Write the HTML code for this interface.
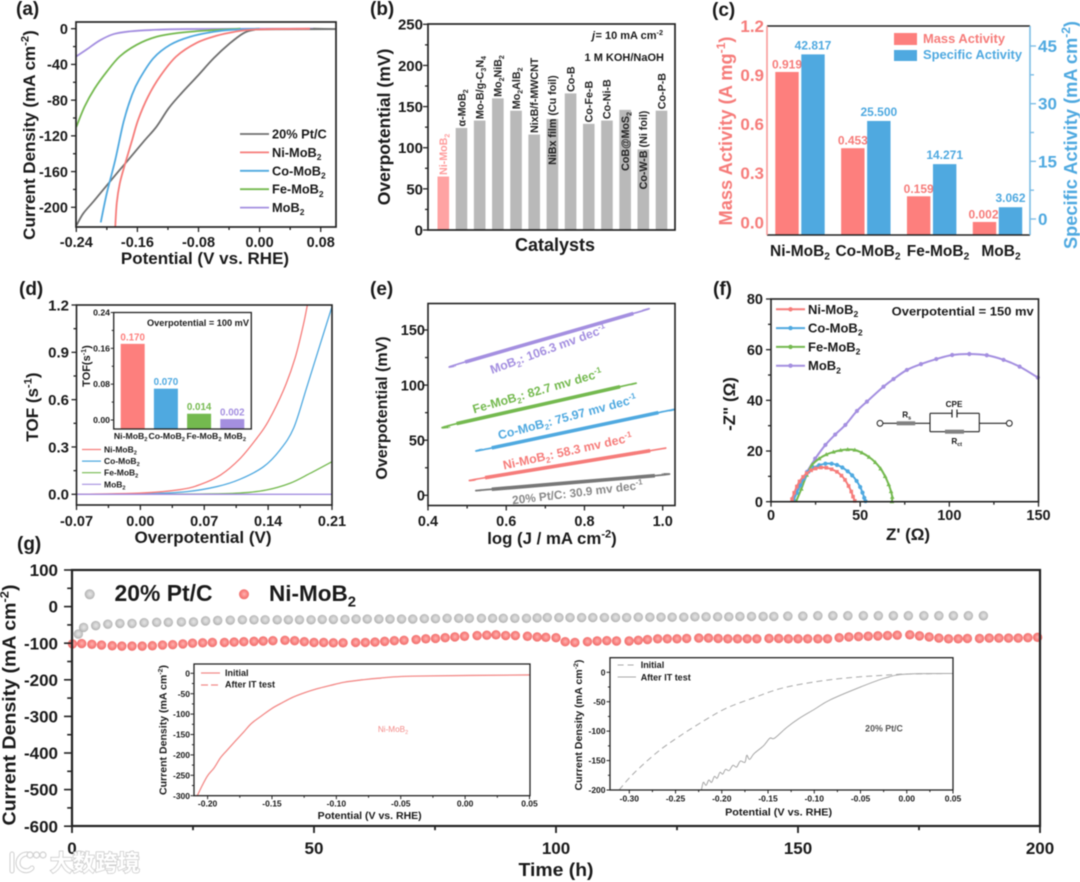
<!DOCTYPE html>
<html lang="en">
<head>
<meta charset="utf-8">
<title>Ni-MoB2 electrocatalyst performance figure</title>
<style>
html,body{margin:0;padding:0;background:#fff;}
svg{display:block;filter:blur(0.4px);}
text{font-family:"Liberation Sans","Noto Sans CJK SC",sans-serif;font-weight:bold;fill:#1a1a1a;}
</style>
</head>
<body>
<svg id="figure" xmlns="http://www.w3.org/2000/svg" width="1080" height="882" viewBox="0 0 1080 882">
<defs>
<radialGradient id="grayBall" cx="52%" cy="48%" r="55%"><stop offset="0" stop-color="#e6e6e6"/><stop offset="0.5" stop-color="#cfcfcf"/><stop offset="1" stop-color="#a9a9a9"/></radialGradient>
<radialGradient id="redBall" cx="52%" cy="48%" r="55%"><stop offset="0" stop-color="#ffb4b2"/><stop offset="0.5" stop-color="#fa8886"/><stop offset="1" stop-color="#ee6866"/></radialGradient>
</defs>
</svg>
<script>
/* ---------- panel (a) LSV ---------- */
const aTicksX=['-0.24','-0.16','-0.08','0.00','0.08'];
const aTicksY=['0','-40','-80','-120','-160','-200'];
const aPtV=[-0.2396,-0.231,-0.218,-0.205,-0.185,-0.172,-0.152,-0.135,-0.119,-0.102,-0.082,-0.06,-0.039,-0.021,-0.008,0.009,0.099];
const aPtJ=[-220,-207,-194,-180.6,-160,-147,-126.5,-109.7,-89,-72,-53.7,-33,-16.4,-5,-1.5,-0.7,-0.5];
const aNiV=[-0.189,-0.187,-0.183,-0.176,-0.1675,-0.159,-0.146,-0.13,-0.109,-0.082,-0.056,-0.034,-0.008,0.066];
const aNiJ=[-222,-195,-173,-151,-126.5,-102,-76,-53,-31,-15.7,-7.8,-3.7,-1,0];
const aCoV=[-0.208,-0.2,-0.189,-0.178,-0.167,-0.157,-0.139,-0.117,-0.091,-0.06,-0.034,0];
const aCoJ=[-217,-184,-147,-104,-74,-56,-33,-18,-9,-3.4,-1.1,0];
const aFeV=[-0.24,-0.229,-0.216,-0.2,-0.183,-0.161,-0.135,-0.104,-0.069,-0.025];
const aFeJ=[-110,-87,-67,-48,-31,-18,-9,-4.5,-2,0];
const aMoV=[-0.24,-0.226,-0.209,-0.191,-0.17,-0.143,-0.095,0.07];
const aMoJ=[-31,-23,-13,-6,-3,-1.5,-0.4,0];
const aLegend=['20% Pt/C','Ni-MoB_{2}','Co-MoB_{2}','Fe-MoB_{2}','MoB_{2}'];

/* ---------- panel (b) catalyst comparison ---------- */
const bTicksY=['0','50','100','150','200','250'];
const bCatalysts=['Ni-MoB_{2}','α-MoB_{2}','Mo-B/g-C_{3}N_{4}','Mo_{2}NiB_{2}','Mo_{2}AlB_{2}','NixB/f-MWCNT','NiBx film (Cu foil)','Co-B','Co-Fe-B','Co-Ni-B','CoB@MoS_{2}','Co-W-B (Ni foil)','Co-P-B'];
const bOverpotential=[65,124,133,160,145,116,135,166,129,133,146,98,145];

/* ---------- panel (c) activity ---------- */
const cCategories=['Ni-MoB_{2}','Co-MoB_{2}','Fe-MoB_{2}','MoB_{2}'];
const cMass=[0.919,0.453,0.159,0.002];
const cSpecific=[42.817,25.5,14.271,3.062];
const cMassLabels=['0.919','0.453','0.159','0.002'];
const cSpecificLabels=['42.817','25.500','14.271','3.062'];
const cTicksLeft=['0.0','0.3','0.6','0.9','1.2'];
const cTicksRight=['0','15','30','45'];

/* ---------- panel (d) TOF ---------- */
const dTicksX=['-0.07','0.00','0.07','0.14','0.21'];
const dTicksY=['0.0','0.3','0.6','0.9','1.2'];
const dNiEta=[-0.07,0,0.044,0.066,0.088,0.109,0.1275,0.14,0.157,0.1695,0.1786,0.183];
const dNiTof=[0,0.008,0.03,0.063,0.123,0.225,0.355,0.461,0.662,0.863,1.074,1.2];
const dCoEta=[-0.07,0.007,0.051,0.084,0.109,0.135,0.153,0.168,0.182,0.197,0.21];
const dCoTof=[0,0.004,0.017,0.049,0.095,0.175,0.281,0.42,0.672,0.95,1.19];
const dFeEta=[-0.07,0.065,0.109,0.138,0.164,0.186,0.21];
const dFeTof=[0,0.002,0.008,0.027,0.07,0.133,0.207];
const dMoEta=[-0.07,0.21];
const dMoTof=[0,0];
const dInsetCategories=['Ni-MoB_{2}','Co-MoB_{2}','Fe-MoB_{2}','MoB_{2}'];
const dInsetTof=[0.17,0.07,0.014,0.002];
const dInsetLabels=['0.170','0.070','0.014','0.002'];
const dInsetTicks=['0.00','0.08','0.16','0.24'];

/* ---------- panel (e) Tafel ---------- */
const eTicksX=['0.4','0.6','0.8','1.0'];
const eTicksY=['0','50','100','150'];
const eMoLog=[0.469,0.495,0.925,0.95];
const eMoEta=[117.3,121,165,168];
const eFeLog=[0.4545,0.473,0.891,0.92];
const eFeEta=[61.7,65,98.5,100.7];
const eCoLog=[0.537,0.563,0.989,1.019];
const eCoEta=[41.7,43,75,76.8];
const eNiLog=[0.52,0.546,0.968,0.993];
const eNiEta=[13.9,16,40.5,42];
const ePtLog=[0.535,0.563,0.98,1.0];
const ePtEta=[4.5,5.5,17.8,19.4];

/* ---------- panel (f) Nyquist ---------- */
const fTicksX=['0','50','100','150'];
const fTicksY=['0','20','40','60','80'];
const fNiRe=[11.8,13,14.5,16,18,20,22.5,25,28,31,34,37,39.5,41.5,43.5,45,46,47];
const fNiIm=[1,3.5,6,8,9.8,11.2,12.4,13.1,13.5,13.4,12.8,11.8,10.3,8.6,6.2,4,2,0.3];
const fCoRe=[12.7,14.5,16.5,18.5,21,24,27,30.5,34,37,40,43,45.5,48,50,51.3,52.3,53];
const fCoIm=[0.7,3.5,6.5,9.2,11.8,13.4,14.4,15,15,14.5,13.5,12,10.4,8.2,5.8,3.6,1.5,0.2];
const fFeRe=[14.2,17,20,23,27,31,35,39,43,47,51,55,58.5,61.5,64,66,67.3,68,67.8];
const fFeIm=[0.3,5,10.5,14.5,17,18.6,19.6,20.3,20.6,20.4,19.3,17.6,15.5,13,10,6.8,4,1.8,0];
const fMoRe=[12.3,15.5,20.2,24.8,30.5,36,41.7,48.2,53.8,63.1,68.7,76.2,84.1,92.7,101.6,111.2,121,130.4,139.4,149.6];
const fMoIm=[1.3,5.9,11.8,17,22.4,26.5,30.3,35.8,39.5,45.4,48.4,52,54.3,56.3,57.9,58.3,57.8,56,53.3,49];

/* ---------- panel (g) stability ---------- */
const gTicksX=['0','50','100','150','200'];
const gTicksY=['100','0','-100','-200','-300','-400','-500','-600'];
const gPtTime=[1.3,2.4,4.9,7.4,9.9,12.4,14.9,17.5,19.9,22.6,25.1,27.6,30.1,32.7,35.2,37.6,39.9,42.4,44.7,47,49.4,51.7,54,56.4,58.7,61,63.4,65.7,68.1,70.4,72.8,75.1,77.5,79.9,82.1,84.6,86.9,89.1,91.5,93.9,96.1,98.2,100.6,102.9,105.3,107.6,110,112.3,114.6,117,119.4,121.7,124,126.4,128.7,131,133.4,135.7,138,140.4,142.8,145,147.9,151,154.1,157.2,160.3,163.5,166.6,169.7,172.8,176,179.1,182.1,185.2,188.3];
const gPtCurrent=[-75,-57,-52,-48,-46,-46,-44,-43,-43,-42,-42,-39,-38,-37,-36,-36,-36,-36,-36,-36,-36,-35,-35,-35,-34,-34,-34,-34,-34,-34,-33,-33,-32,-32,-32,-32,-32,-32,-32,-32,-31,-30,-30,-30,-30,-30,-30,-30,-30,-29,-29,-29,-29,-29,-28,-28,-28,-28,-27,-27,-27,-27,-26,-26,-25,-25,-25,-25,-25,-25,-25,-25,-25,-25,-25,-25];
const gNiTime=[0.1,2,4.1,6.1,8.3,10.3,12.4,14.5,16.6,18.7,20.8,22.9,24.9,27,29,31.5,33.5,35.5,37.6,39.5,41.5,44,46,48,50,52,54,56,58.6,60.6,62.6,64.6,66.6,68.6,71.1,73.1,75.1,77.1,79.1,81.1,83.7,85.7,87.6,89.6,91.6,94.1,96.1,97.9,100,101.9,103.9,106.5,108.5,110.5,112.5,115.1,117,118.9,121,123,125,127,129.5,131.5,133.5,135.5,137.5,139.5,141.5,144,146,148,150,152,154.1,156.1,158.5,160.5,162.5,164.5,166.5,168.5,170.5,173.1,175.1,177.1,179.1,181.1,183.1,185,187.5,189.5,191.5,193.5,195.5,197.5,199.5];
const gNiCurrent=[-102,-101,-103,-105,-107,-108,-108,-108,-107,-105,-104,-102,-100,-99,-98,-98,-97,-96,-95,-94,-93,-92,-93,-96,-98,-98,-99,-99,-98,-98,-97,-95,-93,-92,-90,-88,-87,-85,-83,-81,-79,-78,-77,-79,-79,-81,-83,-84,-85,-96,-98,-96,-94,-93,-94,-94,-92,-90,-88,-88,-88,-87,-86,-86,-87,-88,-88,-88,-88,-87,-87,-88,-88,-88,-88,-88,-85,-83,-82,-81,-80,-79,-78,-77,-80,-83,-86,-88,-88,-87,-87,-86,-86,-86,-86,-85,-84];
const g1TicksX=['-0.20','-0.15','-0.10','-0.05','0.00','0.05'];
const g1TicksY=['0','-50','-100','-150','-200','-250','-300'];
const g1Potential=[-0.208,-0.204,-0.2,-0.195,-0.19,-0.185,-0.179,-0.172,-0.166,-0.158,-0.15,-0.142,-0.134,-0.125,-0.115,-0.105,-0.094,-0.08,-0.067,-0.04,0.05];
const g1Current=[-300,-274,-251,-232,-207,-189,-168,-144,-123,-104,-86,-72,-59,-48,-38,-30,-22,-16,-12,-7,-4];
const g2TicksX=['-0.30','-0.25','-0.20','-0.15','-0.10','-0.05','0.00','0.05'];
const g2TicksY=['0','-50','-100','-150','-200'];
const g2InitialV=[-0.311,-0.296,-0.27,-0.247,-0.221,-0.195,-0.165,-0.135,-0.098,-0.061,-0.024,-0.001,0.05];
const g2InitialJ=[-200,-173,-136,-110,-84,-61,-43,-27,-16,-9,-5,-3,-2];
const g2AfterV=[-0.222,-0.22,-0.217,-0.214,-0.211,-0.208,-0.205,-0.202,-0.199,-0.196,-0.192,-0.188,-0.184,-0.18,-0.175,-0.173,-0.17,-0.165,-0.155,-0.148,-0.143,-0.13,-0.117,-0.1,-0.083,-0.05,-0.024,-0.001,0.05];
const g2AfterJ=[-200,-187,-192,-183,-187,-177,-180,-170,-173,-165,-167,-158,-161,-151,-153,-141,-148,-138,-125,-112,-112,-94,-79,-63,-47,-25,-10,-3,-2];

/* ---------- helpers ---------- */
const NS='http://www.w3.org/2000/svg';
const root=document.getElementById('figure');
const RED='#f67c7a',BLUE='#4fa9e0',GREEN='#74b94f',PURPLE='#a48fe0',GRAY='#6f6f6f';

function add(tag,attrs,parent){
  const e=document.createElementNS(NS,tag);
  for(const k in attrs)e.setAttribute(k,attrs[k]);
  parent.appendChild(e);
  return e;
}
function linear(d0,d1,r0,r1){return v=>r0+(v-d0)*(r1-r0)/(d1-d0);}
function group(name){
  const g=add('g',{},root);
  
  
  return g;
}
function rich(t,str,fs){
  const parts=str.split(/(_\{[^}]*\}|\^\{[^}]*\})/).filter(s=>s.length);
  let back=0;
  parts.forEach(p=>{
    const ts=add('tspan',{},t);
    const m=p.match(/^([_^])\{(.*)\}$/);
    if(m){
      const off=m[1]==='_'?fs*0.24:-fs*0.38;
      ts.setAttribute('dy',back+off);
      ts.setAttribute('font-size',fs*0.66);
      ts.textContent=m[2];
      back=-off;
    }else{
      if(back)ts.setAttribute('dy',back);
      ts.textContent=p;
      back=0;
    }
  });
}
function label(parent,x,y,str,fs,o){
  o=o||{};
  const t=add('text',{x:x,y:y,'font-size':fs,'text-anchor':o.anchor||'start'},parent);
  if(o.fill)t.style.fill=o.fill;
  if(o.weight)t.style.fontWeight=o.weight;
  if(o.italic)t.style.fontStyle='italic';
  if(o.rot!==undefined)t.setAttribute('transform','rotate('+o.rot+' '+x+' '+y+')');
  if(o.len){t.setAttribute('textLength',o.len);t.setAttribute('lengthAdjust','spacingAndGlyphs');}
  
  
  rich(t,str,fs);
  return t;
}
function seg(parent,x1,y1,x2,y2,color,w,name,dash){
  const l=add('line',{x1:x1,y1:y1,x2:x2,y2:y2,stroke:color,'stroke-width':w},parent);
  if(dash)l.setAttribute('stroke-dasharray',dash);
  
  
  return l;
}
function frame(parent,b,w,name){
  const r=add('rect',{x:b.l,y:b.t,width:b.r-b.l,height:b.b-b.t,fill:'none',stroke:'#222','stroke-width':w},parent);
  
  
  return r;
}
function ticksX(parent,b,sx,labels,o){
  const vals=labels.map(parseFloat);
  vals.forEach((v,i)=>{
    seg(parent,sx(v),b.b,sx(v),b.b+o.major,'#222',o.w,'x-tick');
    label(parent,sx(v)+(o.dx||0),o.base,labels[i],o.fs,{anchor:'middle',name:'x-tick-label'});
    if(i<vals.length-1)seg(parent,sx((v+vals[i+1])/2),b.b,sx((v+vals[i+1])/2),b.b+o.major*0.6,'#222',o.w,'x-minor-tick');
  });
}
function ticksY(parent,b,sy,labels,o){
  const vals=labels.map(parseFloat);
  vals.forEach((v,i)=>{
    seg(parent,b.l-o.major,sy(v),b.l,sy(v),'#222',o.w,'y-tick');
    label(parent,o.right,sy(v)+o.fs*0.36,labels[i],o.fs,{anchor:'end',name:'y-tick-label'});
    if(i<vals.length-1)seg(parent,b.l-o.major*0.6,sy((v+vals[i+1])/2),b.l,sy((v+vals[i+1])/2),'#222',o.w,'y-minor-tick');
  });
}
function smooth(pts){
  let d='M'+pts[0][0].toFixed(2)+' '+pts[0][1].toFixed(2);
  for(let i=0;i<pts.length-1;i++){
    const p0=pts[Math.max(i-1,0)],p1=pts[i],p2=pts[i+1],p3=pts[Math.min(i+2,pts.length-1)];
    const c1=[p1[0]+(p2[0]-p0[0])/6,p1[1]+(p2[1]-p0[1])/6];
    const c2=[p2[0]-(p3[0]-p1[0])/6,p2[1]-(p3[1]-p1[1])/6];
    d+='C'+c1[0].toFixed(2)+' '+c1[1].toFixed(2)+' '+c2[0].toFixed(2)+' '+c2[1].toFixed(2)+' '+p2[0].toFixed(2)+' '+p2[1].toFixed(2);
  }
  return d;
}
function curve(parent,xs,ys,sx,sy,color,w,name,dash){
  const pts=xs.map((x,i)=>[sx(x),sy(ys[i])]);
  const p=add('path',{d:smooth(pts),fill:'none',stroke:color,'stroke-width':w,'stroke-linejoin':'round'},parent);
  if(dash)p.setAttribute('stroke-dasharray',dash);
  
  
  return p;
}
function bar(parent,x,w,yTop,yBase,color,name){
  const r=add('rect',{x:x,y:yTop,width:w,height:Math.max(yBase-yTop,0),fill:color},parent);
  
  
  return r;
}

/* ---------- (a) ---------- */
(function(){
  const g=group('panel-a-lsv');
  const b={l:76,t:22,r:336,b:227};
  const sx=linear(-0.24,0.08,76.3,320.7),sy=linear(0,-200,28.7,207.3);
  curve(g,aMoV,aMoJ,sx,sy,PURPLE,1.8,'series-mob2');
  curve(g,[0.07,0.099],[0,-0.5],sx,sy,GRAY,1.8,'series-pt-tail');
  curve(g,aFeV,aFeJ,sx,sy,GREEN,1.8,'series-fe-mob2');
  curve(g,aPtV,aPtJ,sx,sy,GRAY,1.8,'series-pt-c');
  curve(g,aCoV,aCoJ,sx,sy,BLUE,1.8,'series-co-mob2');
  curve(g,aNiV,aNiJ,sx,sy,RED,1.8,'series-ni-mob2');
  frame(g,b,1.7);
  ticksX(g,b,sx,aTicksX,{major:5,w:1.3,base:247,fs:14.5});
  ticksY(g,b,sy,aTicksY,{major:5,w:1.3,right:68,fs:14.5});
  label(g,205,264,'Potential (V vs. RHE)',17,{anchor:'middle',name:'x-axis-title'});
  label(g,35,135,'Current Density (mA cm^{-2})',17,{anchor:'middle',rot:-90,name:'y-axis-title'});
  label(g,16,15,'(a)',19,{name:'panel-label-a'});
  const cols=[GRAY,RED,BLUE,GREEN,PURPLE];
  aLegend.forEach((s,i)=>{
    const y=134+i*18.4;
    seg(g,240,y,269,y,cols[i],1.8,'legend-line');
    label(g,272,y+4.5,s,12.8,{name:'legend-entry'});
  });
})();

/* ---------- (b) ---------- */
(function(){
  const g=group('panel-b-comparison');
  const b={l:428,t:24,r:675,b:230};
  const sy=linear(0,250,230,24.3),sx=linear(0,12,443.3,661.5);
  bOverpotential.forEach((v,i)=>{
    const name='bar-catalyst-'+i;
    bar(g,sx(i)-5.8,11.6,sy(v),b.b,i===0?'#ffa3a3':'#b9b9b9',name);
  });
  frame(g,b,1.7);
  ticksY(g,b,sy,bTicksY,{major:5,w:1.3,right:423,fs:15});
  bCatalysts.forEach((s,i)=>{
    const inside=i===6?46:i===10?61:i===11?40:-1.5;
    const x=sx(i)+3.8,y=sy(bOverpotential[i])+inside;
    label(g,x,y,s,10.7,{rot:-90,fill:i===0?'#ff9c9c':'#222',name:'catalyst-label'});
  });
  label(g,555,251,'Catalysts',18,{anchor:'middle',name:'x-axis-title'});
  label(g,390,127,'Overpotential (mV)',17.5,{anchor:'middle',rot:-90,name:'y-axis-title'});
  label(g,592,39,'j',11,{italic:true,name:'condition-current-symbol'});
  label(g,663,39,'= 10 mA cm^{-2}',11,{anchor:'end',name:'condition-current'});
  label(g,664,61,'1 M KOH/NaOH',11,{anchor:'end',name:'condition-electrolyte'});
  label(g,370,15,'(b)',19,{name:'panel-label-b'});
})();

/* ---------- (c) ---------- */
(function(){
  const g=group('panel-c-activity');
  const b={l:767,t:26,r:1030,b:235};
  const sm=linear(0,1.2,222.3,26),ss=linear(0,45,219,46);
  const gx=linear(0,3,787,984.5);
  cMass.forEach((v,i)=>{
    bar(g,gx(i)-11.7,23.4,sm(v),b.b,'#fd7f7d','bar-mass-activity-'+i);
    label(g,gx(i)+(i===3?-1:0),sm(v)-3.5,cMassLabels[i],12,{anchor:'middle',fill:RED,name:'mass-activity-value'});
  });
  cSpecific.forEach((v,i)=>{
    bar(g,gx(i)+14.3,23.4,ss(v),b.b,BLUE,'bar-specific-activity-'+i);
    label(g,gx(i)+26,ss(v)-5,cSpecificLabels[i],12,{anchor:'middle',fill:BLUE,name:'specific-activity-value'});
  });
  seg(g,767,26,1030,26,'#222',1.6,'top-axis-line');
  seg(g,767,235,1030,235,'#222',1.6,'bottom-axis-line');
  seg(g,767,26,767,235,'#f99a98',1.6,'left-axis-line');
  seg(g,1030,26,1030,235,'#7cbde6',1.6,'right-axis-line');
  cTicksLeft.forEach(s=>{
    label(g,764,sm(parseFloat(s))+6,s,17,{anchor:'end',fill:RED,name:'left-tick-label'});
  });
  cTicksRight.forEach((s,i)=>{
    const v=parseFloat(s);
    seg(g,1030,ss(v),1036,ss(v),'#7cbde6',1.4,'right-tick');
    if(i<3)seg(g,1030,ss(v+7.5),1034,ss(v+7.5),'#7cbde6',1.4,'right-minor-tick');
    label(g,1038,ss(v)+6,s,17,{fill:BLUE,name:'right-tick-label'});
  });
  const shift=[0,2,7,4];
  const centers=[800,866,931,997];
  cCategories.forEach((s,i)=>{
    label(g,centers[i]+shift[i],256,s,15.5,{anchor:'middle',name:'category-label'});
  });
  label(g,732,131,'Mass Activity (A mg^{-1})',18.5,{anchor:'middle',rot:-90,fill:RED,name:'left-axis-title',len:189});
  label(g,1077,135,'Specific Activity (mA cm^{-2})',18.5,{anchor:'middle',rot:-90,fill:BLUE,name:'right-axis-title',len:228});
  bar(g,894,23,33,45,'#fd7f7d','legend-swatch-mass');
  bar(g,894,23,50,61,BLUE,'legend-swatch-specific');
  label(g,923,43,'Mass Activity',12.5,{fill:RED,name:'legend-entry',len:82});
  label(g,923,59,'Specific Activity',12.5,{fill:BLUE,name:'legend-entry',len:99});
  label(g,712,16,'(c)',19,{name:'panel-label-c'});
})();

/* ---------- (d) ---------- */
(function(){
  const g=group('panel-d-tof');
  const b={l:76.5,t:305,r:332,b:505};
  const sx=linear(-0.07,0.21,76.5,332),sy=linear(0,1.2,494.3,305);
  curve(g,dFeEta,dFeTof,sx,sy,GREEN,1.3,'series-fe-mob2');
  curve(g,dCoEta,dCoTof,sx,sy,BLUE,1.3,'series-co-mob2');
  curve(g,dNiEta,dNiTof,sx,sy,RED,1.3,'series-ni-mob2');
  curve(g,dMoEta,dMoTof,sx,sy,PURPLE,1.3,'series-mob2');
  frame(g,b,1.6);
  ticksX(g,b,sx,dTicksX,{major:5,w:1.3,base:526,fs:14.5});
  ticksY(g,b,sy,dTicksY,{major:5,w:1.3,right:69,fs:15});
  label(g,203,543,'Overpotential  (V)',17,{anchor:'middle',name:'x-axis-title'});
  label(g,38,407,'TOF (s^{-1})',17,{anchor:'middle',rot:-90,name:'y-axis-title'});
  label(g,19,295,'(d)',19,{name:'panel-label-d'});
  const names=['Ni-MoB_{2}','Co-MoB_{2}','Fe-MoB_{2}','MoB_{2}'];
  const cols=[RED,BLUE,GREEN,PURPLE];
  names.forEach((s,i)=>{
    const y=449.5+i*11.6;
    seg(g,82,y,101,y,cols[i],1.2,'legend-line');
    label(g,104,y+3,s,8.5,{name:'legend-entry'});
  });
  /* inset */
  const ib={l:113.7,t:312.5,r:251.3,b:429};
  const iy=linear(0,0.24,420,312.5);
  const ix=linear(0,3,132.7,232.3);
  const icols=['#fd7f7d',BLUE,GREEN,'#a48fe0'];
  dInsetTof.forEach((v,i)=>{
    bar(g,ix(i)-12,24,iy(v),ib.b,icols[i],'inset-bar-'+i);
    label(g,ix(i),iy(v)-3.5,dInsetLabels[i],9.8,{anchor:'middle',fill:icols[i],name:'inset-bar-value'});
  });
  frame(g,ib,1.3,'inset-frame');
  dInsetTicks.forEach((s,i)=>{
    const v=parseFloat(s);
    seg(g,ib.l-3,iy(v),ib.l,iy(v),'#222',1,'inset-y-tick');
    label(g,110,iy(v)+3,s,8.7,{anchor:'end',name:'inset-y-tick-label'});
    if(i<3)seg(g,ib.l-2,iy(v+0.04),ib.l,iy(v+0.04),'#222',1,'inset-y-minor-tick');
  });
  const icx=[130.7,166.7,204,235];
  dInsetCategories.forEach((s,i)=>{
    label(g,icx[i],439,s,8.7,{anchor:'middle',name:'inset-category-label'});
  });
  label(g,90,366,'TOF(s^{-1})',11,{anchor:'middle',rot:-90,name:'inset-y-axis-title'});
  label(g,147,326,'Overpotential = 100 mV',8.8,{name:'inset-annotation',len:102});
})();

/* ---------- (e) ---------- */
(function(){
  const g=group('panel-e-tafel');
  const b={l:428,t:303.5,r:675,b:505.5};
  const sx=linear(0.4,1,428,662.7),sy=linear(0,150,495.3,330);
  function tafel(xs,ys,col,name){
    curve(g,xs,ys,sx,sy,col,1.7,name+'-fit');
    curve(g,xs.slice(1,3),ys.slice(1,3),sx,sy,col,3.6,name+'-data');
  }
  tafel(ePtLog,ePtEta,'#777777','series-pt-c');
  tafel(eNiLog,eNiEta,RED,'series-ni-mob2');
  tafel(eCoLog,eCoEta,BLUE,'series-co-mob2');
  tafel(eFeLog,eFeEta,GREEN,'series-fe-mob2');
  tafel(eMoLog,eMoEta,PURPLE,'series-mob2');
  frame(g,b,1.6);
  ticksX(g,b,sx,eTicksX,{major:5,w:1.3,base:526,fs:14.5});
  ticksY(g,b,sy,eTicksY,{major:5,w:1.3,right:425,fs:14.5});
  label(g,552,544,'log (J / mA cm^{-2})',16.8,{anchor:'middle',name:'x-axis-title'});
  label(g,387,408,'Overpotential (mV)',16,{anchor:'middle',rot:-90,name:'y-axis-title'});
  label(g,492,374,'MoB_{2}: 106.3 mv dec^{-1}',12.3,{rot:-20,fill:PURPLE,name:'slope-label-mob2'});
  label(g,474,413.5,'Fe-MoB_{2}: 82.7 mv dec^{-1}',12.3,{rot:-16,fill:GREEN,name:'slope-label-fe-mob2'});
  label(g,499.3,439.5,'Co-MoB_{2}: 75.97 mv dec^{-1}',12.3,{rot:-15,fill:BLUE,name:'slope-label-co-mob2'});
  label(g,504,469.5,'Ni-MoB_{2}: 58.3 mv dec^{-1}',12.3,{rot:-12.4,fill:RED,name:'slope-label-ni-mob2'});
  label(g,512.7,504.3,'20% Pt/C: 30.9 mv dec^{-1}',11.8,{rot:-6.8,fill:'#888888',name:'slope-label-pt-c'});
  label(g,370,295,'(e)',19,{name:'panel-label-e'});
})();

/* ---------- (f) ---------- */
(function(){
  const g=group('panel-f-nyquist');
  const b={l:771,t:299,r:1038.5,b:501.7};
  const sx=linear(0,150,771,1038.5),sy=linear(0,80,501.7,299);
  function nyq(xs,ys,col,name,shape){
    curve(g,xs,ys,sx,sy,col,2,name);
    xs.forEach((x,i)=>{
      const px=sx(x),py=sy(ys[i]);
      let m;
      if(shape==='tri')m=add('path',{d:'M'+px+' '+(py-2.4)+'l2.3 4h-4.6z',fill:col},g);
      else if(shape==='sq')m=add('rect',{x:px-1.8,y:py-1.8,width:3.6,height:3.6,fill:col},g);
      else m=add('circle',{cx:px,cy:py,r:2.1,fill:col},g);
      
      
    });
  }
  nyq(fMoRe,fMoIm,PURPLE,'series-mob2','dot');
  nyq(fFeRe,fFeIm,GREEN,'series-fe-mob2','tri');
  nyq(fCoRe,fCoIm,BLUE,'series-co-mob2','dot');
  nyq(fNiRe,fNiIm,RED,'series-ni-mob2','sq');
  frame(g,b,1.6);
  ticksX(g,b,sx,fTicksX,{major:5,w:1.3,base:520,fs:14.5});
  ticksY(g,b,sy,fTicksY,{major:5,w:1.3,right:763,fs:14.5});
  label(g,908,540,"Z' (Ω)",17,{anchor:'middle',name:'x-axis-title'});
  label(g,735,404,'-Z" (Ω)',17,{anchor:'middle',rot:-90,name:'y-axis-title'});
  label(g,713,295,'(f)',19,{name:'panel-label-f'});
  label(g,891.7,315.7,'Overpotential = 150 mv',11.5,{name:'overpotential-annotation',len:142});
  const names=['Ni-MoB_{2}','Co-MoB_{2}','Fe-MoB_{2}','MoB_{2}'];
  const cols=[RED,BLUE,GREEN,PURPLE];
  names.forEach((s,i)=>{
    const y=309.3+i*18.8;
    seg(g,776,y,805,y,cols[i],2,'legend-line');
    const m=add('circle',{cx:790.5,cy:y,r:2.2,fill:cols[i]},g);
    
    
    label(g,808,y+4.5,s,13,{name:'legend-entry'});
  });
  /* equivalent circuit */
  const c=group('equivalent-circuit');
  seg(c,883,423.3,930,423.3,'#222',1.1,'circuit-wire');
  seg(c,979.3,423.3,1006,423.3,'#222',1.1,'circuit-wire');
  seg(c,930,413.3,930,431.7,'#222',1.1,'circuit-wire');
  seg(c,979.3,413.3,979.3,431.7,'#222',1.1,'circuit-wire');
  seg(c,930,413.3,952,413.3,'#222',1.1,'circuit-wire');
  seg(c,957,413.3,979.3,413.3,'#222',1.1,'circuit-wire');
  seg(c,930,431.7,979.3,431.7,'#222',1.1,'circuit-wire');
  seg(c,952,409.5,952,417.5,'#222',1.2,'capacitor-plate');
  seg(c,957,409.5,957,417.5,'#222',1.2,'capacitor-plate');
  bar(c,896.7,18.5,421.3,425.3,'#808080','resistor-rs');
  bar(c,945,19,429.7,433.7,'#808080','resistor-rct');
  [880,1009.3].forEach(cx=>{
    const o=add('circle',{cx:cx,cy:423.3,r:2.9,fill:'#fff',stroke:'#222','stroke-width':1},c);
    
    
  });
  label(c,954,407,'CPE',8.2,{anchor:'middle',name:'circuit-label-cpe'});
  label(c,906.7,417.7,'R_{s}',8.2,{anchor:'middle',name:'circuit-label-rs'});
  label(c,956.7,444,'R_{ct}',8.2,{anchor:'middle',name:'circuit-label-rct'});
})();

/* ---------- (g) ---------- */
(function(){
  const g=group('panel-g-stability');
  const b={l:72,t:570,r:1040,b:826};
  const sx=linear(0,200,72,1040),sy=linear(0,100,606.6,570);
  gPtTime.forEach((t,i)=>{
    const c=add('circle',{cx:sx(t),cy:sy(gPtCurrent[i]),r:4.7,fill:'url(#grayBall)'},g);
    
    
  });
  gNiTime.forEach((t,i)=>{
    const c=add('circle',{cx:sx(t),cy:sy(gNiCurrent[i]),r:4.7,fill:'url(#redBall)'},g);
    
    
  });
  frame(g,b,2.2);
  ticksX(g,b,sx,gTicksX,{major:7,w:1.8,base:854,fs:17});
  ticksY(g,b,sy,gTicksY.slice().reverse(),{major:8,w:1.6,right:58,fs:17});
  label(g,556,876,'Time (h)',18,{anchor:'middle',name:'x-axis-title',len:75});
  label(g,15.5,705,'Current Density (mA cm^{-2})',18.5,{anchor:'middle',rot:-90,name:'y-axis-title',len:241});
  label(g,17,550,'(g)',19,{name:'panel-label-g'});
  const lg=add('circle',{cx:89.7,cy:594.3,r:5,fill:'url(#grayBall)'},g);
  
  
  const lr=add('circle',{cx:244,cy:594.3,r:5,fill:'url(#redBall)'},g);
  
  
  label(g,114.5,601,'20% Pt/C',23,{name:'legend-entry-pt-c',len:98});
  label(g,269,601,'Ni-MoB_{2}',22.5,{name:'legend-entry-ni-mob2'});

  /* inset Ni-MoB2 */
  const i1=group('inset-ni-mob2');
  const b1={l:194,t:664,r:530,b:795.7};
  const x1=linear(-0.2,0.05,207.6,529.5),y1=linear(0,-300,673.3,795.7);
  curve(i1,g1Potential,g1Current,x1,y1,'#f38b89',1.3,'series-after-it');
  frame(i1,b1,1.3,'inset-frame');
  ticksX(i1,b1,x1,g1TicksX,{major:3.5,w:1,base:806.7,fs:8.5});
  ticksY(i1,b1,y1,g1TicksY,{major:3.5,w:1,right:190,fs:8.5});
  label(i1,369.7,819,'Potential (V vs. RHE)',10,{anchor:'middle',name:'inset-x-axis-title',len:104});
  label(i1,166.5,730,'Current Density (mA cm^{-2})',10,{anchor:'middle',rot:-90,name:'inset-y-axis-title',len:130});
  seg(i1,201,673,220,673,'#f38b89',1.2,'legend-line-initial');
  seg(i1,201,685,220,685,'#f38b89',1.2,'legend-line-after','7 3');
  label(i1,225,676,'Initial',9,{name:'legend-entry'});
  label(i1,225,687.7,'After IT test',9,{name:'legend-entry'});
  label(i1,393,732,'Ni-MoB_{2}',8.2,{anchor:'middle',fill:'#f38b89',weight:'normal',name:'inset-annotation'});

  /* inset Pt/C */
  const i2=group('inset-pt-c');
  const b2={l:610,t:657.7,r:953,b:790};
  const x2=linear(-0.3,0.05,629.3,953),y2=linear(0,-200,672.3,790);
  curve(i2,g2InitialV,g2InitialJ,x2,y2,'#a8a8a8',1,'series-initial','6 4');
  curve(i2,g2AfterV,g2AfterJ,x2,y2,'#a8a8a8',1,'series-after-it');
  frame(i2,b2,1.3,'inset-frame');
  ticksX(i2,b2,x2,g2TicksX,{major:3.5,w:1,base:801.7,fs:8.5});
  ticksY(i2,b2,y2,g2TicksY,{major:3.5,w:1,right:605.5,fs:8.5});
  label(i2,778.6,815.7,'Potential (V vs. RHE)',10,{anchor:'middle',name:'inset-x-axis-title',len:107});
  label(i2,582,725,'Current Density (mA cm^{-2})',10,{anchor:'middle',rot:-90,name:'inset-y-axis-title',len:131});
  seg(i2,617.6,665,636,665,'#a8a8a8',1,'legend-line-initial','6 4');
  seg(i2,617.6,677,636,677,'#a8a8a8',1,'legend-line-after');
  label(i2,640.7,668,'Initial',9,{name:'legend-entry'});
  label(i2,640.7,680.7,'After IT test',9,{name:'legend-entry'});
  label(i2,884,731.7,'20% Pt/C',8.8,{anchor:'middle',fill:'#555555',name:'inset-annotation'});
})();

/* ---------- watermark ---------- */
(function(){
  const w=group('watermark');
  const shapes=['M12 854v17','M27 854a9 9 0 0 0-9 9a8 8 0 0 0 14 5'];
  shapes.forEach(d=>{
    const under=add('path',{d:d,fill:'none',stroke:'#cfcfcf','stroke-width':5,'stroke-linecap':'round'},w);
    
    
    const p=add('path',{d:d,fill:'none',stroke:'#ffffff','stroke-width':3,'stroke-linecap':'round'},w);
    
    
  });
  [30,36.5,43].forEach(cx=>{
    const o=add('circle',{cx:cx,cy:855,r:3,fill:'#fff',stroke:'#d0d0d0','stroke-width':1.2},w);
    
    
  });
  const t=label(w,50,871,'大数跨境',22.5,{name:'watermark-text'});
  t.style.fill='#ffffff';
  t.style.stroke='#cccccc';
  t.style.strokeWidth='1.6px';
  t.style.paintOrder='stroke';
})();
</script>
</body>
</html>
